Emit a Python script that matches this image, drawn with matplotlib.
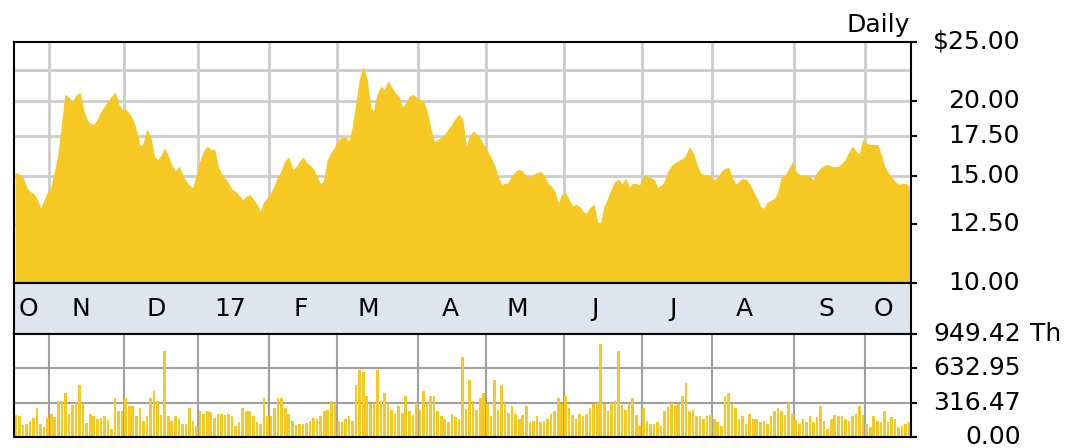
import numpy as np
import matplotlib
matplotlib.use("Agg")
import matplotlib.pyplot as plt
from matplotlib import transforms
from matplotlib.ticker import NullLocator

# daily close, one entry per trading day (mid Oct 2016 -> mid Oct 2017)
price = [
    15.19, 15.08, 14.91, 14.35, 14.13, 14.03, 13.71, 13.20, 13.66, 14.08,
    14.35, 15.25, 16.27, 18.23, 20.44, 20.21, 19.83, 20.36, 20.59, 19.31,
    18.58, 18.30, 18.23, 18.58, 19.09, 19.53, 19.90, 20.28, 20.59, 19.68,
    19.31, 19.31, 19.01, 18.58, 17.76, 16.77, 16.96, 17.89, 17.36, 16.15,
    15.96, 16.21, 16.64, 16.15, 15.60, 15.25, 15.54, 15.08, 14.68, 14.46,
    14.30, 15.08, 15.84, 16.46, 16.77, 16.58, 16.58, 15.54, 15.13, 14.85,
    14.57, 14.24, 14.13, 13.92, 13.66, 13.87, 13.97, 13.71, 13.45, 13.05,
    13.56, 13.82, 14.08, 14.46, 14.96, 15.31, 15.90, 16.08, 15.37, 15.48,
    15.84, 16.08, 15.78, 15.60, 15.37, 14.91, 14.52, 14.79, 15.96, 16.39,
    16.71, 17.22, 17.36, 17.36, 17.09, 18.03, 19.68, 21.64, 22.65, 21.64,
    19.45, 19.16, 20.44, 21.07, 20.83, 21.47, 20.99, 20.59, 20.28, 19.45,
    19.75, 20.28, 20.44, 20.21, 20.05, 19.90, 19.09, 17.89, 17.03, 17.22,
    17.36, 17.55, 17.89, 18.23, 18.66, 18.94, 18.58, 16.58, 17.42, 17.76,
    17.55, 17.29, 16.84, 16.46, 16.08, 15.60, 14.91, 14.52, 14.57, 14.63,
    15.02, 15.25, 15.37, 15.25, 14.96, 14.96, 15.08, 15.19, 15.25, 15.02,
    14.57, 14.41, 14.13, 13.45, 13.97, 14.08, 13.71, 13.35, 13.45, 13.35,
    13.10, 13.00, 13.30, 13.45, 12.61, 12.51, 13.35, 13.76, 14.24, 14.68,
    14.79, 14.52, 14.85, 14.35, 14.57, 14.57, 14.46, 15.02, 14.96, 14.91,
    14.79, 14.35, 14.46, 14.68, 15.25, 15.60, 15.78, 15.90, 16.02, 16.21,
    16.71, 16.39, 15.66, 15.19, 15.08, 15.08, 14.96, 14.79, 14.91, 15.25,
    15.43, 15.48, 14.91, 14.52, 14.68, 14.85, 14.79, 14.52, 14.13, 13.76,
    13.35, 13.25, 13.56, 13.66, 13.76, 14.08, 14.91, 15.02, 15.37, 15.78,
    15.25, 15.08, 15.02, 15.02, 14.91, 14.79, 15.19, 15.43, 15.60, 15.66,
    15.54, 15.54, 15.54, 15.72, 15.96, 16.39, 16.77, 16.46, 16.27, 17.22,
    16.96, 16.90, 16.90, 16.90, 16.27, 15.54, 15.19, 14.91, 14.68, 14.52,
    14.57, 14.57, 14.35,
]

# daily volume in thousands of shares
volume = [
    200, 190, 110, 120, 150, 171, 264, 120, 95, 171,
    216, 180, 330, 330, 405, 216, 291, 315, 480, 315,
    130, 216, 190, 165, 171, 190, 160, 75, 360, 240,
    240, 360, 285, 285, 190, 264, 150, 190, 360, 426,
    330, 200, 790, 190, 150, 190, 165, 120, 120, 264,
    150, 100, 240, 210, 240, 230, 171, 216, 216, 200,
    216, 190, 105, 135, 264, 240, 240, 190, 140, 120,
    360, 190, 190, 264, 360, 360, 264, 216, 150, 110,
    120, 120, 130, 150, 171, 165, 190, 240, 250, 330,
    315, 150, 141, 165, 190, 150, 480, 620, 600, 380,
    300, 315, 620, 330, 405, 315, 250, 210, 285, 220,
    380, 240, 200, 315, 250, 426, 315, 380, 380, 240,
    190, 170, 141, 210, 180, 165, 740, 260, 525, 330,
    250, 360, 405, 300, 190, 525, 250, 480, 315, 220,
    285, 210, 165, 200, 285, 141, 150, 190, 141, 150,
    165, 210, 240, 360, 300, 380, 264, 200, 165, 216,
    190, 216, 264, 300, 315, 860, 300, 240, 315, 330,
    790, 291, 250, 315, 360, 200, 105, 264, 150, 120,
    120, 140, 105, 240, 280, 315, 291, 300, 380, 500,
    240, 250, 190, 190, 170, 190, 200, 165, 141, 105,
    380, 405, 300, 264, 165, 190, 120, 210, 165, 165,
    141, 150, 120, 190, 240, 264, 240, 200, 315, 210,
    160, 120, 165, 141, 190, 141, 180, 285, 150, 75,
    165, 200, 190, 190, 165, 150, 190, 216, 285, 200,
    120, 96, 190, 150, 141, 240, 141, 180, 165, 90,
    105, 120, 140,
]

# first trading-day index of each month shown
month_start = [0, 10, 31, 52, 72, 91, 114, 133, 155, 177, 197, 220, 240]
month_labels = ["O", "N", "D", "17", "F", "M", "A", "M", "J", "J", "A", "S", "O"]

price_ticks = [25, 20, 17.5, 15, 12.5, 10]
price_tick_labels = ["$25.00", "20.00", "17.50", "15.00", "12.50", "10.00"]
price_grid = [22.5, 20, 17.5, 15, 12.5]

vol_ticks = [949.42, 632.95, 316.47, 0.0]
vol_tick_labels = ["949.42", "632.95", "316.47", "0.00"]

gold = "#F5C823"
fs = 18
plt.rcParams["font.family"] = "DejaVu Sans"

W, H = 1065, 448
def box(l, t, r, b):
    return [l / W, 1 - b / H, (r - l) / W, (b - t) / H]

fig = plt.figure(figsize=(W / 100, H / 100), dpi=100)
ax_p = fig.add_axes(box(14, 42, 911, 283))
ax_m = fig.add_axes(box(14, 283, 911, 334))
ax_v = fig.add_axes(box(14, 334, 911, 437))

n = len(price)
days = np.arange(n)
bounds = [s - 0.5 for s in month_start[1:]]

# price panel
ax_p.set_yscale("log")
ax_p.fill_between(days, 10, price, color=gold, edgecolor=gold, lw=0.8, zorder=2)
for v in price_grid:
    ax_p.axhline(v, color="#cccccc", lw=2, zorder=1)
for b in bounds:
    ax_p.axvline(b, color="#cccccc", lw=2, zorder=1)
ax_p.set_xlim(-0.5, n - 0.5)
ax_p.set_ylim(10, 25)
ax_p.yaxis.set_minor_locator(NullLocator())
ax_p.set_yticks(price_ticks)
ax_p.set_xticks([])
ax_p.tick_params(axis="y", left=False, right=True, length=4, width=1.5,
                 labelleft=False, labelright=False)

tr = transforms.blended_transform_factory(fig.transFigure, ax_p.transData)
for v, lab in zip(price_ticks, price_tick_labels):
    fig.text(1020 / W, v, lab, transform=tr, ha="right", va="center", fontsize=fs)
fig.text(910 / W, 1 - 32 / H, "Daily", ha="right", va="baseline", fontsize=fs)

# month band
ax_m.set_facecolor("#dfe5ef")
ax_m.set_xlim(-0.5, n - 0.5)
ax_m.set_ylim(0, 1)
ax_m.set_xticks([])
ax_m.set_yticks([])
ends = month_start[1:] + [n]
for s, e, lab in zip(month_start, ends, month_labels):
    span = e - s
    pos = s + 9 if span > 18 else s + span * 0.4
    ax_m.text(pos - 0.5, 0.5, lab, ha="center", va="center", fontsize=fs)

# volume panel
ax_v.bar(days, volume, width=0.75, color=gold, lw=0, zorder=2)
for v in vol_ticks[1:3]:
    ax_v.axhline(v, color="#a0a0a0", lw=1.5, zorder=1)
for b in bounds:
    ax_v.axvline(b, color="#a0a0a0", lw=1.5, zorder=1)
ax_v.set_xlim(-0.5, n - 0.5)
ax_v.set_ylim(0, 949.42)
ax_v.set_yticks(vol_ticks)
ax_v.set_xticks([])
ax_v.tick_params(axis="y", left=False, right=True, length=4, width=1.5,
                 labelleft=False, labelright=False)
tv = transforms.blended_transform_factory(fig.transFigure, ax_v.transData)
for v, lab in zip(vol_ticks, vol_tick_labels):
    fig.text(1021 / W, v, lab, transform=tv, ha="right", va="center", fontsize=fs)
fig.text(1030 / W, vol_ticks[0], "Th", transform=tv, ha="left", va="center", fontsize=fs)

for ax in (ax_p, ax_m, ax_v):
    for sp in ax.spines.values():
        sp.set_color("black")
        sp.set_linewidth(1.5)

fig.savefig("out.png", dpi=100)
plt.close(fig)
